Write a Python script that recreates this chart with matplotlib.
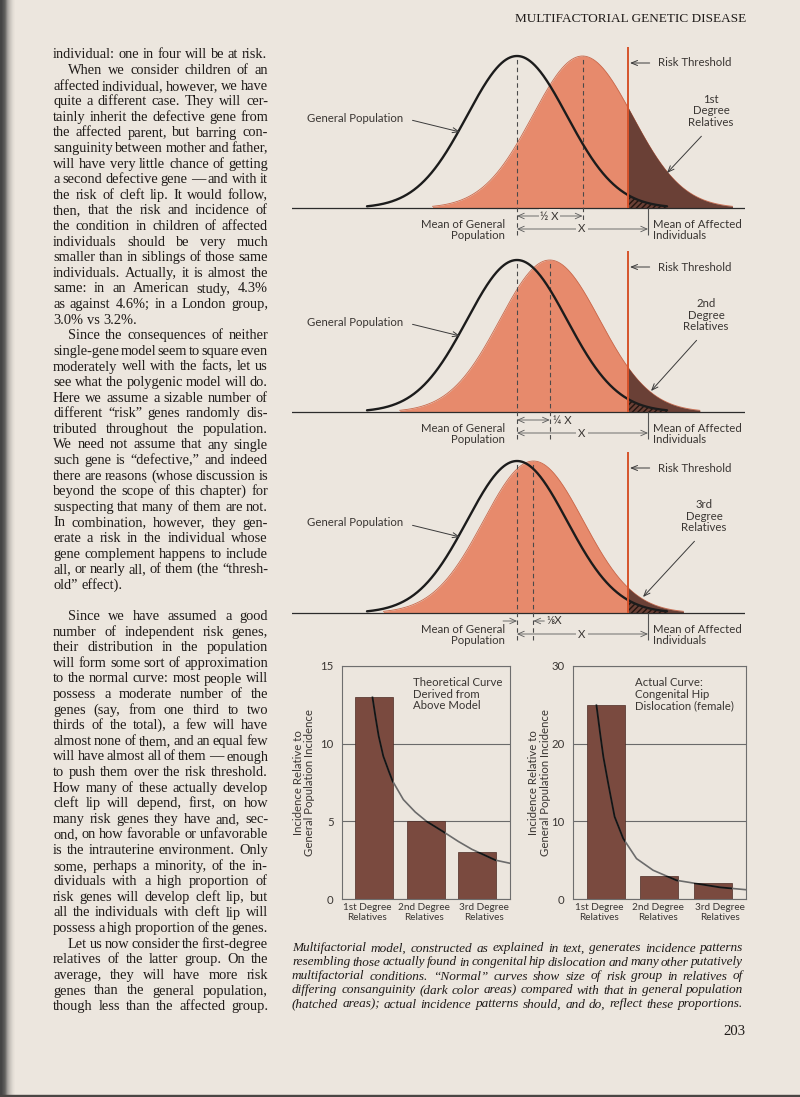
import numpy as np
import matplotlib
matplotlib.use('Agg')
import matplotlib.pyplot as plt

# ---------------------------------------------------------------- data
relative_degrees = ['1st', '2nd', '3rd']
relative_mean_shift = [1 / 2, 1 / 4, 1 / 8]          # fraction of X
relative_shift_labels = ['½ X', '¼ X', '⅛X']
affected_mean_sd = 2.62      # X : mean liability of affected individuals (SD units)
threshold_sd = 2.22          # risk threshold (SD units)
curve_span_sd = 3.0          # curves drawn to +/- 3 SD

bar_labels = ['1st Degree\nRelatives', '2nd Degree\nRelatives', '3rd Degree\nRelatives']
theoretical_incidence = [13, 5, 3]
actual_incidence = [25, 3, 2]
theoretical_curve_x = [-0.03, 0.03, 0.09, 0.18, 0.29, 0.36, 0.57, 0.80, 1.02, 1.36, 1.64, 1.90, 2.36, 2.64]
theoretical_curve_y = [13.0, 11.7, 10.5, 9.2, 8.2, 7.6, 6.4, 5.6, 5.0, 4.3, 3.7, 3.2, 2.5, 2.3]
actual_curve_x = [-0.17, -0.10, -0.04, 0.05, 0.17, 0.33, 0.58, 0.89, 1.33, 2.14, 2.62]
actual_curve_y = [25.0, 21.3, 18.3, 14.9, 10.6, 7.8, 5.2, 3.7, 2.4, 1.5, 1.2]
theoretical_ticks = [0, 5, 10, 15]
actual_ticks = [0, 10, 20, 30]
ylabel_text = 'Incidence Relative to\nGeneral Population Incidence'
theoretical_note = 'Theoretical Curve\nDerived from\nAbove Model'
actual_note = 'Actual Curve:\nCongenital Hip\nDislocation (female)'

header_text = 'MULTIFACTORIAL GENETIC DISEASE'
page_number = '203'

paragraphs = [
    (False, False, ["individual: one in four will be at risk."]),
    (True, False, [
        "When we consider children of an",
        "affected individual, however, we have",
        "quite a different case. They will cer-",
        "tainly inherit the defective gene from",
        "the affected parent, but barring con-",
        "sanguinity between mother and father,",
        "will have very little chance of getting",
        "a second defective gene — and with it",
        "the risk of cleft lip. It would follow,",
        "then, that the risk and incidence of",
        "the condition in children of affected",
        "individuals should be very much",
        "smaller than in siblings of those same",
        "individuals. Actually, it is almost the",
        "same: in an American study, 4.3%",
        "as against 4.6%; in a London group,",
        "3.0% vs 3.2%."]),
    (True, False, [
        "Since the consequences of neither",
        "single-gene model seem to square even",
        "moderately well with the facts, let us",
        "see what the polygenic model will do.",
        "Here we assume a sizable number of",
        "different “risk” genes randomly dis-",
        "tributed throughout the population.",
        "We need not assume that any single",
        "such gene is “defective,” and indeed",
        "there are reasons (whose discussion is",
        "beyond the scope of this chapter) for",
        "suspecting that many of them are not.",
        "In combination, however, they gen-",
        "erate a risk in the individual whose",
        "gene complement happens to include",
        "all, or nearly all, of them (the “thresh-",
        "old” effect)."]),
    None,
    (True, False, [
        "Since we have assumed a good",
        "number of independent risk genes,",
        "their distribution in the population",
        "will form some sort of approximation",
        "to the normal curve: most people will",
        "possess a moderate number of the",
        "genes (say, from one third to two",
        "thirds of the total), a few will have",
        "almost none of them, and an equal few",
        "will have almost all of them — enough",
        "to push them over the risk threshold.",
        "How many of these actually develop",
        "cleft lip will depend, first, on how",
        "many risk genes they have and, sec-",
        "ond, on how favorable or unfavorable",
        "is the intrauterine environment. Only",
        "some, perhaps a minority, of the in-",
        "dividuals with a high proportion of",
        "risk genes will develop cleft lip, but",
        "all the individuals with cleft lip will",
        "possess a high proportion of the genes."]),
    (True, True, [
        "Let us now consider the first-degree",
        "relatives of the latter group. On the",
        "average, they will have more risk",
        "genes than the general population,",
        "though less than the affected group."]),
]

caption_lines = [
    "Multifactorial model, constructed as explained in text, generates incidence patterns",
    "resembling those actually found in congenital hip dislocation and many other putatively",
    "multifactorial conditions. “Normal” curves show size of risk group in relatives of",
    "differing consanguinity (dark color areas) compared with that in general population",
    "(hatched areas); actual incidence patterns should, and do, reflect these proportions.",
]

# ---------------------------------------------------------------- style
W, H = 800, 1097
BG = '#ECE6DE'
SALMON = '#E78A6C'
SALMON_EDGE = '#C9684B'
DARK = '#6A4036'
RED = '#D6532B'
BAR = '#7A4A3F'
TXT = '#3A3633'
BODY = '#1F1B19'
SERIF = 'Liberation Serif'
SANS = ['Lato', 'DejaVu Sans']

fig = plt.figure(figsize=(W / 100, H / 100), dpi=100)
fig.patch.set_facecolor(BG)
R = fig.canvas.get_renderer()

page = fig.add_axes([0, 0, 1, 1])
page.set_xlim(0, W)
page.set_ylim(H, 0)
page.axis('off')


def measure(s, fs, **kw):
    t = page.text(0, 0, s, fontsize=fs, **kw)
    w = t.get_window_extent(renderer=R).width
    t.remove()
    return w


# binding shadow and bottom edge
alpha = np.array([1, 1, .95, .9, .85, .75, .6, .45, .35, .27, .2, .14, .09, .05, .02, 0])
grad = np.zeros((1, len(alpha), 4))
grad[..., :3] = 0.27
grad[0, :, 3] = alpha
page.imshow(grad, extent=(0, len(alpha), H, 0), aspect='auto', interpolation='bilinear', zorder=0)
page.axhspan(1094.5, H, color='#4a4644', zorder=0)
page.set_xlim(0, W)
page.set_ylim(H, 0)

# chart label font size: "General Population" is ~96 px wide
CFS = 10 * 96 / measure('General Population', 10, family=SANS)


def fit_fs(s, width, **kw):
    return 10 * width / measure(s, 10, **kw)


TICKFS = fit_fs('2nd Degree', 52, family=SANS)

# header and page number
page.text(746, 22.5, header_text, ha='right', va='baseline', color=BODY, family=SERIF,
          fontsize=fit_fs(header_text, 232, family=SERIF))
page.text(746, 1035, page_number, ha='right', va='baseline', color=BODY, family=SERIF,
          fontsize=fit_fs(page_number, 22, family=SERIF))


# ---------------------------------------------------------------- justified text
def layout_block(lines_info, x0, x1, fs, **kw):
    sp = measure('a a', fs, **kw) - measure('aa', fs, **kw)
    for (text, indent, justify, yb) in lines_info:
        words = text.split()
        ws = [measure(w, fs, **kw) for w in words]
        left = x0 + indent
        natural = sum(ws) + sp * (len(words) - 1)
        if len(words) > 1 and (justify or natural > x1 - left):
            gap = (x1 - left - sum(ws)) / (len(words) - 1)
        else:
            gap = sp
        x = left
        for w, wd in zip(words, ws):
            page.text(x, yb, w, fontsize=fs, ha='left', va='baseline', **kw)
            x += wd + gap


def best_fs(items, x0, x1, squeeze, **kw):
    # largest size at which every line fits with squeezed spaces
    sp = measure('a a', 10, **kw) - measure('aa', 10, **kw)
    ratios = []
    for text, indent, justify in items:
        words = text.split()
        nat = sum(measure(w, 10, **kw) for w in words) + squeeze * sp * (len(words) - 1)
        ratios.append((x1 - x0 - indent) / nat)
    return 10 * min(ratios)


BX0, BX1 = 53, 268
INDENT = 15
body_items = []
row = 0
body_rows = []
for para in paragraphs:
    if para is None:
        row += 1
        continue
    indented, last_just, lines = para
    for i, ln in enumerate(lines):
        ind = INDENT if (indented and i == 0) else 0
        just = (i < len(lines) - 1) or last_just
        body_items.append((ln, ind, just))
        body_rows.append(row)
        row += 1

bkw = dict(family=SERIF, color=BODY)
bfs = best_fs(body_items, BX0, BX1, 0.4, **bkw)
b_lines = [(t, ind, j, 54.5 + r * 15.6 + 4.0) for (t, ind, j), r in zip(body_items, body_rows)]
layout_block(b_lines, BX0, BX1, bfs, **bkw)

CX0, CX1 = 292, 743
ckw = dict(family=SERIF, style='italic', color=BODY)
cap_items = [(t, 0, True) for t in caption_lines]
cfs_cap = best_fs(cap_items, CX0, CX1, 0.55, **ckw)
c_lines = [(t, 0, True, 948 + i * 14 + 3.5) for i, t in enumerate(caption_lines)]
layout_block(c_lines, CX0, CX1, cfs_cap, **ckw)

# ---------------------------------------------------------------- normal-curve panels
MU_PX, SD_PX, PEAK_PX = 517, 50, 152
PL, PR = 292, 745


def dx(px):
    return (px - MU_PX) / SD_PX


def dy(rel):
    return rel / PEAK_PX


baselines = [208, 412, 613]
degree_cx = [711, 706, 704]
degree_target = [(667, 35), (651, 21), (643, 16)]
arr_kw = dict(lw=0.7, color='#3a3a3a', shrinkB=0)

for k, b in enumerate(baselines):
    ax = fig.add_axes([PL / W, 1 - (b + 40) / H, (PR - PL) / W, 210 / H])
    ax.set_xlim(dx(PL), dx(PR))
    ax.set_ylim(dy(-40), dy(170))
    ax.axis('off')

    z = np.linspace(-curve_span_sd, curve_span_sd, 601)
    dens = np.exp(-0.5 * z ** 2)
    mu = relative_mean_shift[k] * affected_mean_sd
    xr = mu + z

    ax.fill_between(xr, 0, dens, color=SALMON, lw=0, zorder=1)
    ax.plot(xr, dens, color=SALMON_EDGE, lw=0.6, zorder=1.5)
    m = xr >= threshold_sd
    ax.fill_between(xr[m], 0, dens[m], color=DARK, lw=0, zorder=2)
    mg = z >= threshold_sd
    ax.fill_between(z[mg], 0, dens[mg], facecolor='none', edgecolor='#24150f',
                    hatch='//////', lw=0, zorder=2.5)
    ax.vlines([0, mu], dy(-27), 1.0, colors='#4a4a4a', lw=0.8,
              linestyles=(0, (4, 3)), zorder=3.5)
    ax.plot(z, dens, color='#1c1c1c', lw=1.7, zorder=4, solid_capstyle='round')
    ax.axhline(0, color='#2b2b2b', lw=0.9, zorder=3)
    ax.vlines(threshold_sd, 0, dy(161), color=RED, lw=1.4, zorder=5)
    ax.vlines(affected_mean_sd, dy(-27), 0, colors='#555555', lw=0.8, zorder=3)

    tkw = dict(fontsize=CFS, color=TXT, family=SANS, zorder=6)
    # X arrow
    yX = dy(-21)
    ax.annotate('', xy=(affected_mean_sd, yX), xytext=(0, yX),
                arrowprops=dict(arrowstyle='<->,head_length=0.45,head_width=0.2',
                                lw=0.6, color='#5a5a5a', shrinkA=0, shrinkB=0))
    ax.text(dx(582), yX, 'X', ha='center', va='center',
            bbox=dict(fc=BG, ec='none', pad=1.5), **tkw)
    # mean shift arrows
    yS = dy(-8)
    if k < 2:
        ax.annotate('', xy=(mu, yS), xytext=(0, yS),
                    arrowprops=dict(arrowstyle='<->,head_length=0.45,head_width=0.2',
                                    lw=0.6, color='#5a5a5a', shrinkA=0, shrinkB=0))
        if k == 0:
            ax.text((mu) / 2, yS, relative_shift_labels[k], ha='center', va='center',
                    bbox=dict(fc=BG, ec='none', pad=1.0), **tkw)
        else:
            ax.text(mu + dx(MU_PX + 3), yS, relative_shift_labels[k], ha='left',
                    va='center', **tkw)
    else:
        ax.annotate('', xy=(0, yS), xytext=(dx(503), yS),
                    arrowprops=dict(arrowstyle='->,head_length=0.45,head_width=0.2',
                                    lw=0.6, color='#5a5a5a', shrinkA=0, shrinkB=0))
        ax.annotate('', xy=(mu, yS), xytext=(mu + dx(MU_PX + 11), yS),
                    arrowprops=dict(arrowstyle='->,head_length=0.45,head_width=0.2',
                                    lw=0.6, color='#5a5a5a', shrinkA=0, shrinkB=0))
        ax.text(mu + dx(MU_PX + 13), yS, relative_shift_labels[k], ha='left',
                va='center', **tkw)

    ax.text(dx(505), dy(-22), 'Mean of General\nPopulation', ha='right', va='center',
            multialignment='right', linespacing=1.1, **tkw)
    ax.text(dx(653), dy(-22), 'Mean of Affected\nIndividuals', ha='left', va='center',
            multialignment='left', linespacing=1.1, **tkw)

    ax.annotate('General Population', xy=(dx(460), dy(76)), xytext=(dx(403), dy(90)),
                ha='right', va='center',
                arrowprops=dict(arrowstyle='->,head_length=0.55,head_width=0.22',
                                relpos=(1, 0.5), shrinkA=5, **arr_kw), **tkw)
    ax.annotate('Risk Threshold', xy=(threshold_sd + dx(MU_PX + 2), dy(145)),
                xytext=(dx(658), dy(145)), ha='left', va='center',
                arrowprops=dict(arrowstyle='->,head_length=0.55,head_width=0.22',
                                relpos=(0, 0.5), shrinkA=4, **arr_kw), **tkw)
    tx, ty = degree_target[k]
    ax.annotate(f'{relative_degrees[k]}\nDegree\nRelatives', xy=(dx(tx), dy(ty)),
                xytext=(dx(degree_cx[k]), dy(97)), ha='center', va='center',
                multialignment='center', linespacing=1.1,
                arrowprops=dict(arrowstyle='->,head_length=0.55,head_width=0.22',
                                relpos=(0.45, 0), shrinkA=5, **arr_kw), **tkw)


# ---------------------------------------------------------------- bar charts
def bar_chart(x0, x1, centre0, unit, values, ymax, ticks, cx, cy, note, note_x, ylab_x,
              label_pos):
    y0, y1 = 666, 899
    ax = fig.add_axes([x0 / W, 1 - y1 / H, (x1 - x0) / W, (y1 - y0) / H])
    ax.patch.set_alpha(0)
    ax.set_xlim((x0 - centre0) / unit, (x1 - centre0) / unit)
    ax.set_ylim(0, ymax)
    xs = np.arange(len(values))
    bars = ax.bar(xs, values, width=38 / unit, color=BAR, edgecolor='#4d2c25',
                  lw=0.5, zorder=2)
    ax.plot(cx, cy, color='#6b6b6b', lw=1.2, zorder=3)
    for p in bars:
        ln, = ax.plot(cx, cy, color='#141414', lw=1.3, zorder=4)
        ln.set_clip_path(p)
    ax.set_yticks(ticks)
    ax.set_yticklabels([str(t) for t in ticks], family=SANS, fontsize=CFS)
    ax.yaxis.grid(True, color='#6a6a6a', lw=0.8)
    ax.set_axisbelow(True)
    ax.set_xticks([(p - centre0) / unit for p in label_pos])
    ax.set_xticklabels(bar_labels, family=SANS, linespacing=1.05, fontsize=TICKFS)
    ax.tick_params(axis='both', length=0, labelcolor=TXT)
    ax.tick_params(axis='y', pad=6)
    ax.tick_params(axis='x', pad=3)
    for s in ax.spines.values():
        s.set_color('#6e6e6e')
        s.set_linewidth(0.8)
    ax.text((note_x - centre0) / unit, ymax * (899 - 694) / 233, note, ha='left',
            va='center', linespacing=1.1, fontsize=CFS, color=TXT, family=SANS)
    page.text(ylab_x, 783, ylabel_text, rotation=90, ha='center', va='center',
              multialignment='center', linespacing=1.1, fontsize=CFS, color=TXT, family=SANS)


bar_chart(342, 510, 374, 51.5, theoretical_incidence, 15, theoretical_ticks,
          theoretical_curve_x, theoretical_curve_y, theoretical_note, 413, 304,
          [367, 424, 484])
bar_chart(573, 746, 605.5, 53.5, actual_incidence, 30, actual_ticks,
          actual_curve_x, actual_curve_y, actual_note, 635, 539.5,
          [599, 658, 720])

fig.savefig('out.png', dpi=100, facecolor=BG)
